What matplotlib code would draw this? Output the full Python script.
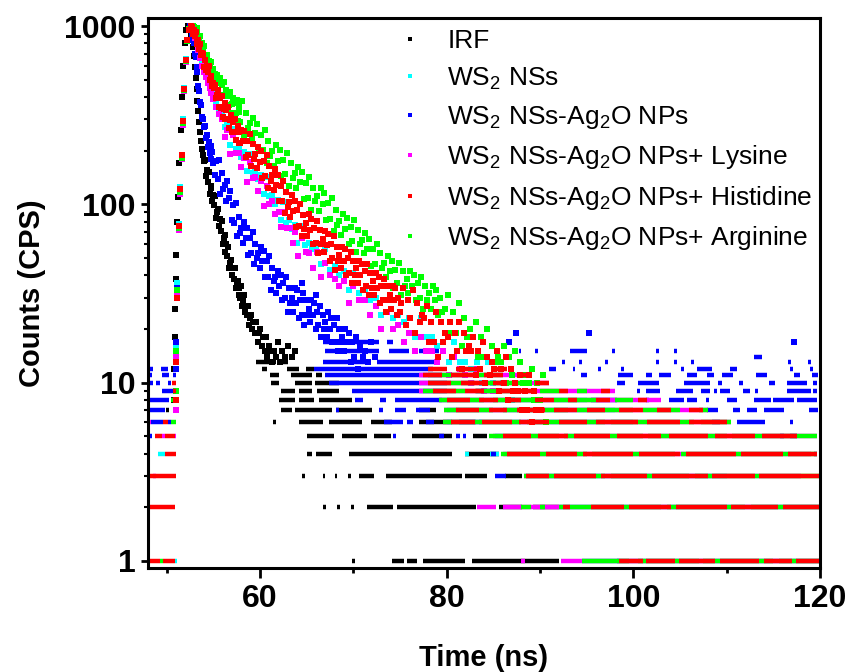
import numpy as np
import matplotlib.pyplot as plt
from matplotlib.ticker import LogLocator, NullFormatter

plt.rcParams['font.family'] = ['Liberation Sans', 'DejaVu Sans']
plt.rcParams['mathtext.fontset'] = 'custom'
plt.rcParams['mathtext.rm'] = 'Liberation Sans'
plt.rcParams['mathtext.it'] = 'Liberation Sans:italic'
plt.rcParams['mathtext.bf'] = 'Liberation Sans:bold'

labels = ['IRF', r'WS$_2$ NSs', r'WS$_2$ NSs-Ag$_2$O NPs', r'WS$_2$ NSs-Ag$_2$O NPs+ Lysine',
          r'WS$_2$ NSs-Ag$_2$O NPs+ Histidine', r'WS$_2$ NSs-Ag$_2$O NPs+ Arginine']
colors = ['#000000', '#00FFFF', '#0000FF', '#FF00FF', '#FF0000', '#00FF00']

x_ticks = [60, 80, 100, 120]
x_minor = [50, 70, 90, 110]
y_ticks = [1, 10, 100, 1000]

irf_pts = [(50.75, 8), (50.8, 12), (50.85, 18), (50.9, 26), (50.95, 38), (51.0, 52), (51.1, 80), (51.2, 110),
           (51.35, 170), (51.5, 260), (51.65, 400), (51.8, 600), (51.95, 800), (52.1, 950), (52.25, 1000),
           (52.4, 990), (52.5, 960), (52.6, 900), (52.7, 830), (52.8, 760), (52.9, 680), (53.0, 590), (53.1, 510),
           (53.2, 445), (53.3, 380), (53.4, 335), (53.5, 290), (53.6, 255), (53.7, 228), (53.8, 205), (53.9, 190),
           (54.0, 174), (54.1, 178), (54.2, 144), (54.3, 155), (54.4, 134), (54.5, 151), (54.6, 114), (54.7, 124),
           (54.8, 127), (54.9, 104), (55.0, 113), (55.1, 99), (55.2, 111), (55.3, 84), (55.4, 91), (55.5, 94),
           (55.6, 76), (55.7, 83), (55.8, 71), (55.9, 81), (56.0, 60), (56.1, 65), (56.2, 67), (56.3, 54),
           (56.4, 60), (56.5, 51), (56.6, 58), (56.7, 44), (56.8, 47), (56.9, 49), (57.0, 40), (57.1, 44),
           (57.2, 38), (57.3, 44), (57.4, 34), (57.5, 36), (57.6, 37), (57.7, 31), (57.8, 34), (57.9, 30),
           (58.0, 35), (58.1, 27), (58.2, 29), (58.3, 31), (58.4, 25), (58.5, 27), (58.6, 24), (58.7, 27),
           (58.8, 21), (58.9, 23), (59.0, 24), (59.15, 20), (59.3, 22), (59.45, 19), (59.6, 22), (59.75, 17),
           (59.9, 19), (60.05, 20), (60.2, 16), (60.35, 18), (60.5, 15), (60.65, 18), (60.8, 14), (60.95, 16),
           (61.1, 15), (61.3, 13), (61.5, 15), (61.7, 14), (61.9, 17), (62.1, 13), (62.4, 15), (62.7, 14),
           (63.0, 16), (63.4, 14), (63.8, 15)]

cyan_pts = [(50.95, 8), (51.05, 16), (51.15, 36), (51.3, 78), (51.45, 125), (51.6, 190), (51.75, 300),
            (51.9, 450), (52.05, 650), (52.2, 840), (52.35, 960),
            (52.6, 1000), (52.8, 940), (53.0, 880), (53.2, 820), (53.4, 760), (53.6, 690), (53.8, 620),
            (54.0, 575), (54.2, 540), (54.4, 505), (54.6, 475), (54.8, 445), (55.0, 415), (55.3, 380),
            (55.6, 345), (55.9, 315), (56.2, 270), (56.5, 280), (56.8, 215), (57.1, 265), (57.4, 204),
            (57.7, 209), (58.0, 185), (58.3, 196), (58.6, 153), (58.9, 192), (59.2, 150), (59.5, 154),
            (59.8, 138), (60.1, 146), (60.4, 115), (60.7, 143), (61.0, 111), (61.3, 113), (61.6, 101),
            (61.9, 106), (62.2, 82), (62.5, 103), (62.8, 79), (63.1, 82), (63.4, 73), (63.7, 77), (64.0, 61),
            (64.4, 76), (64.8, 59), (65.2, 61), (65.6, 56), (66.0, 58), (66.5, 46), (67.0, 56), (67.5, 43),
            (68.0, 45), (68.5, 40), (69.0, 42), (69.5, 33), (70.0, 41), (70.6, 32), (71.2, 33), (71.8, 29),
            (72.4, 30), (73.0, 24), (73.6, 29), (74.2, 23), (74.8, 24), (75.4, 22), (76.0, 23), (76.6, 18),
            (77.2, 23), (77.8, 18), (78.4, 18), (79.0, 16), (79.6, 17), (80.2, 13), (80.8, 17), (81.4, 13),
            (82.0, 13), (82.6, 12), (83.2, 13), (83.8, 10), (84.4, 13), (85.0, 10), (86.0, 10), (87.0, 8)]

blue_pts = [(50.95, 12), (51.05, 17), (51.15, 34), (51.3, 75), (51.45, 120), (51.6, 185), (51.75, 290),
            (51.9, 440), (52.05, 640), (52.2, 830), (52.35, 950),
            (52.5, 1000), (52.6, 950), (52.7, 905), (52.8, 830), (52.9, 800), (53.0, 700), (53.1, 670),
            (53.2, 590), (53.3, 550), (53.4, 460), (53.5, 430), (53.6, 375), (53.7, 360), (53.8, 310),
            (53.9, 300), (54.0, 270), (54.1, 275), (54.2, 235), (54.3, 245), (54.4, 210), (54.5, 225),
            (54.6, 195), (54.7, 212), (54.8, 180), (54.9, 196), (55.0, 170), (55.15, 146), (55.3, 175),
            (55.45, 139), (55.6, 178), (55.75, 115), (55.9, 150), (56.05, 122), (56.2, 128), (56.35, 104),
            (56.5, 136), (56.65, 108), (56.8, 119), (56.95, 82), (57.1, 99), (57.25, 79), (57.4, 102),
            (57.55, 66), (57.7, 85), (57.85, 69), (58.0, 74), (58.15, 61), (58.3, 80), (58.45, 65), (58.6, 74),
            (58.75, 52), (58.9, 65), (59.05, 53), (59.2, 70), (59.35, 46), (59.5, 60), (59.65, 50), (59.8, 53),
            (59.95, 44), (60.1, 58), (60.25, 48), (60.4, 55), (60.55, 39), (60.7, 48), (60.85, 39), (61.0, 51),
            (61.15, 33), (61.3, 44), (61.45, 37), (61.6, 39), (61.75, 32), (61.9, 42), (62.05, 35), (62.2, 40),
            (62.35, 29), (62.5, 36), (62.65, 30), (62.8, 39), (62.95, 25), (63.1, 34), (63.25, 28), (63.4, 30),
            (63.55, 25), (63.7, 34), (63.85, 28), (64.0, 33), (64.15, 23), (64.3, 29), (64.45, 24), (64.6, 32),
            (64.75, 21), (64.9, 29), (65.05, 24), (65.2, 26), (65.35, 22), (65.5, 29), (65.65, 24), (65.8, 28),
            (65.95, 20), (66.1, 25), (66.25, 21), (66.4, 27), (66.55, 18), (66.7, 24), (66.85, 20), (67.0, 22),
            (67.15, 18), (67.3, 25), (67.45, 20), (67.6, 23), (67.75, 17), (67.9, 21), (68.05, 17), (68.2, 23),
            (68.35, 15), (68.5, 20), (68.65, 17), (68.8, 18), (68.95, 15), (69.1, 20), (69.3, 17), (69.5, 19),
            (69.7, 13), (69.9, 17), (70.1, 14), (70.3, 18), (70.5, 12), (70.7, 16), (71.0, 14), (71.3, 15),
            (71.6, 13), (71.9, 17), (72.3, 14), (64.5, 36), (66.0, 31), (86.7, 17), (87.4, 19), (95.3, 19),
            (117.2, 17)]

magenta_pts = [(50.95, 7), (51.05, 14), (51.15, 32), (51.3, 72), (51.45, 115), (51.6, 180), (51.75, 280),
               (51.9, 430), (52.05, 630), (52.2, 820), (52.35, 950),
               (52.6, 1000), (52.8, 930), (53.0, 860), (53.2, 800), (53.4, 730), (53.6, 660), (53.8, 600),
               (54.0, 555), (54.2, 520), (54.4, 480), (54.6, 450), (54.8, 420), (55.0, 390), (55.3, 350),
               (55.6, 320), (55.9, 300), (56.2, 238), (56.5, 262), (56.8, 191), (57.1, 244), (57.4, 194),
               (57.7, 195), (58.0, 162), (58.3, 182), (58.6, 133), (58.9, 173), (59.2, 140), (59.5, 143),
               (59.8, 119), (60.1, 135), (60.4, 98), (60.7, 126), (61.0, 100), (61.3, 105), (61.6, 88),
               (62.0, 90), (62.3, 75), (62.6, 90), (62.9, 74), (63.2, 74), (63.5, 61), (63.8, 70), (64.1, 51),
               (64.5, 65), (64.9, 54), (65.3, 53), (65.7, 44), (66.1, 54), (66.5, 39), (67.0, 47), (67.5, 40),
               (68.0, 38), (68.5, 35), (69.0, 37), (69.5, 28), (70.0, 35), (70.6, 29), (71.2, 29), (71.8, 24),
               (72.4, 27), (73.0, 20), (73.6, 25), (74.2, 20), (74.8, 21), (75.4, 17), (76.0, 19), (76.6, 15),
               (77.2, 18), (77.8, 15), (78.4, 15), (79.0, 13), (79.6, 15), (80.2, 11), (80.8, 14), (81.4, 12),
               (82.0, 11), (82.6, 10), (83.2, 12), (84.0, 9), (85.0, 9)]

green_pts = [(50.95, 9), (51.05, 15), (51.15, 33), (51.3, 74), (51.45, 118), (51.6, 182), (51.75, 285),
             (51.9, 435), (52.05, 635), (52.2, 825), (52.4, 960),
             (52.8, 1000), (52.9, 990), (53.0, 918), (53.1, 977), (53.2, 904), (53.3, 980), (53.4, 837),
             (53.5, 867), (53.6, 878), (53.7, 766), (53.8, 800), (53.9, 726), (54.0, 771), (54.1, 646),
             (54.2, 670), (54.3, 686), (54.4, 605), (54.5, 640), (54.6, 587), (54.7, 631), (54.8, 536),
             (54.9, 561), (55.0, 574), (55.1, 506), (55.2, 536), (55.3, 504), (55.4, 533), (55.5, 429),
             (55.6, 477), (55.7, 513), (55.8, 410), (55.9, 468), (56.0, 411), (56.1, 483), (56.2, 368),
             (56.3, 409), (56.4, 440), (56.5, 355), (56.6, 407), (56.7, 360), (56.8, 426), (56.9, 326),
             (57.0, 366), (57.1, 396), (57.2, 320), (57.3, 368), (57.4, 324), (57.5, 384), (57.6, 295),
             (57.7, 330), (57.8, 358), (57.9, 288), (58.1, 378), (58.3, 246), (58.5, 326), (58.7, 268),
             (58.9, 284), (59.1, 233), (59.3, 306), (59.5, 250), (59.7, 283), (59.9, 200), (60.1, 246),
             (60.3, 202), (60.5, 262), (60.7, 171), (60.9, 227), (61.1, 187), (61.3, 199), (61.5, 163),
             (61.7, 214), (61.9, 176), (62.1, 201), (62.3, 144), (62.5, 178), (62.7, 147), (62.9, 193),
             (63.1, 127), (63.3, 170), (63.5, 141), (63.7, 150), (63.9, 123), (64.1, 162), (64.3, 133),
             (64.5, 151), (64.7, 107), (64.9, 132), (65.1, 108), (65.3, 142), (65.5, 93), (65.7, 124),
             (65.9, 104), (66.1, 111), (66.3, 92), (66.5, 123), (66.7, 101), (66.9, 116), (67.1, 82),
             (67.3, 102), (67.5, 83), (67.7, 109), (67.9, 71), (68.1, 93), (68.3, 77), (68.5, 81), (68.7, 67),
             (68.9, 88), (69.1, 73), (69.3, 84), (69.5, 60), (69.7, 75), (69.9, 62), (70.1, 82), (70.3, 54),
             (70.5, 72), (70.7, 60), (70.9, 63), (71.1, 53), (71.3, 69), (71.5, 56), (71.7, 64), (71.9, 45),
             (72.1, 56), (72.3, 46), (72.5, 60), (72.7, 39), (72.9, 53), (73.1, 44), (73.3, 47), (73.5, 39),
             (73.7, 51), (73.9, 42), (74.1, 48), (74.3, 34), (74.5, 43), (74.7, 36), (74.9, 47), (75.1, 31),
             (75.3, 42), (75.5, 35), (75.7, 38), (75.9, 32), (76.1, 42), (76.3, 35), (76.5, 40), (76.7, 29),
             (76.9, 36), (77.1, 30), (77.3, 39), (77.5, 26), (77.7, 35), (77.9, 29), (78.1, 32), (78.3, 26),
             (78.5, 35), (78.7, 29), (78.9, 33), (79.1, 24), (79.3, 30), (79.5, 25), (79.8, 26), (80.1, 31),
             (80.4, 19), (80.7, 25), (81.0, 19), (81.3, 28), (81.6, 16), (81.9, 23), (82.2, 18), (82.5, 20),
             (82.8, 18), (83.1, 22), (83.4, 14), (83.7, 18), (84.0, 14), (84.3, 20), (84.6, 11), (84.9, 16),
             (85.2, 13), (85.5, 14), (85.8, 13), (86.1, 16), (86.4, 10), (86.7, 14), (87.0, 11), (87.3, 15),
             (87.6, 9), (87.9, 13), (88.2, 10), (88.5, 11), (88.8, 10), (89.1, 12), (89.4, 8), (89.7, 10),
             (90.0, 8), (90.3, 11), (90.6, 6)]

red_pts = [(50.95, 8), (51.05, 13), (51.15, 30), (51.3, 76), (51.45, 122), (51.6, 188), (51.75, 295),
           (51.9, 445), (52.05, 645), (52.2, 835), (52.35, 955),
           (52.6, 1000), (52.7, 985), (52.8, 905), (52.9, 950), (53.0, 875), (53.1, 930), (53.2, 790),
           (53.3, 820), (53.4, 835), (53.5, 745), (53.6, 790), (53.7, 690), (53.8, 705), (53.9, 700),
           (54.0, 590), (54.1, 645), (54.2, 570), (54.3, 600), (54.4, 555), (54.5, 595), (54.6, 500),
           (54.7, 517), (54.8, 525), (54.9, 460), (55.0, 480), (55.1, 450), (55.2, 465), (55.3, 395),
           (55.4, 408), (55.5, 435), (55.6, 350), (55.7, 395), (55.8, 346), (55.9, 405), (56.0, 310),
           (56.1, 343), (56.2, 370), (56.3, 300), (56.4, 340), (56.5, 300), (56.6, 350), (56.7, 268),
           (56.8, 296), (56.9, 318), (57.0, 255), (57.1, 290), (57.2, 255), (57.3, 300), (57.4, 230),
           (57.5, 255), (57.6, 275), (57.7, 220), (57.8, 253), (57.9, 222), (58.0, 262), (58.15, 226),
           (58.3, 259), (58.45, 184), (58.6, 228), (58.75, 188), (58.9, 248), (59.05, 163), (59.2, 217),
           (59.35, 180), (59.5, 192), (59.65, 159), (59.8, 211), (59.95, 173), (60.1, 199), (60.25, 141),
           (60.4, 175), (60.55, 145), (60.7, 189), (60.85, 124), (61.0, 165), (61.15, 136), (61.3, 146),
           (61.45, 120), (61.6, 158), (61.75, 129), (61.9, 146), (62.05, 104), (62.2, 127), (62.35, 105),
           (62.5, 135), (62.65, 89), (62.8, 118), (62.95, 97), (63.1, 103), (63.25, 85), (63.4, 113),
           (63.55, 92), (63.7, 105), (63.85, 75), (64.0, 93), (64.15, 76), (64.3, 100), (64.45, 66),
           (64.6, 87), (64.75, 73), (64.9, 79), (65.05, 66), (65.2, 88), (65.35, 72), (65.5, 83), (65.65, 60),
           (65.8, 74), (65.95, 61), (66.1, 81), (66.25, 53), (66.4, 72), (66.55, 60), (66.7, 64), (66.85, 54),
           (67.0, 71), (67.15, 59), (67.3, 68), (67.45, 48), (67.6, 60), (67.75, 50), (67.9, 66), (68.05, 43),
           (68.2, 58), (68.35, 48), (68.5, 52), (68.65, 44), (68.8, 58), (68.95, 48), (69.1, 56), (69.25, 40),
           (69.4, 50), (69.55, 41), (69.7, 54), (69.85, 36), (70.0, 48), (70.15, 40), (70.3, 44), (70.45, 36),
           (70.6, 48), (70.75, 40), (70.9, 46), (71.05, 33), (71.2, 42), (71.35, 35), (71.5, 46), (71.65, 31),
           (71.8, 41), (71.95, 34), (72.1, 37), (72.25, 31), (72.4, 41), (72.55, 34), (72.7, 39), (72.85, 28),
           (73.0, 35), (73.15, 29), (73.3, 38), (73.45, 25), (73.6, 35), (73.75, 29), (73.9, 31), (74.05, 26),
           (74.2, 35), (74.35, 29), (74.5, 34), (74.65, 24), (74.8, 30), (74.95, 25), (75.1, 28), (75.35, 34),
           (75.6, 21), (75.85, 29), (76.1, 23), (76.35, 33), (76.6, 19), (76.85, 28), (77.1, 22), (77.35, 24),
           (77.6, 23), (77.85, 27), (78.1, 17), (78.35, 22), (78.6, 17), (78.85, 25), (79.1, 14), (79.35, 22),
           (79.6, 17), (79.85, 19), (80.1, 18), (80.35, 22), (80.6, 14), (80.85, 19), (81.1, 15), (81.35, 22),
           (81.6, 12), (81.85, 19), (82.1, 15), (82.35, 16), (82.6, 15), (82.85, 18), (83.1, 11), (83.35, 15),
           (83.6, 12), (83.85, 17), (84.1, 10), (84.35, 14), (84.6, 11), (84.85, 13), (85.1, 12), (85.35, 15),
           (85.6, 9), (85.85, 12), (86.1, 10), (86.35, 14), (86.6, 8), (86.85, 12), (87.1, 9), (87.35, 10),
           (87.6, 9), (87.85, 11), (88.1, 7), (88.35, 9), (88.6, 7), (88.85, 11), (89.1, 6), (89.35, 9),
           (89.6, 7), (90.1, 7)]

# (count level, first ns, last ns): runs of adjacent channels sitting on the same integer count
irf_rows = [(7, 49.9, 50.3),
            (13, 59.6, 61.7), (13, 62.5, 63.0),
            (12, 60.2, 60.7), (12, 62.9, 64.2), (12, 64.9, 65.8),
            (11, 61.1, 62.0), (11, 63.3, 65.6), (11, 66.0, 66.6),
            (10, 61.2, 62.0), (10, 63.8, 65.6), (10, 65.9, 68.5),
            (9, 62.3, 63.8), (9, 64.2, 65.6), (9, 66.1, 68.5),
            (8, 62.0, 63.8), (8, 64.2, 65.8), (8, 66.3, 69.9),
            (7, 62.2, 63.4), (7, 63.8, 67.7), (7, 68.1, 72.0), (7, 77.0, 78.9),
            (6, 61.4, 61.7), (6, 64.2, 66.7), (6, 67.4, 70.9), (6, 71.9, 74.1), (6, 77.0, 80.6),
            (5, 65.0, 67.9), (5, 68.8, 71.5), (5, 72.2, 74.0), (5, 76.3, 80.6), (5, 82.8, 84.3),
            (4, 65.0, 65.6), (4, 66.0, 67.7), (4, 69.5, 80.6), (4, 82.0, 85.6),
            (3, 64.5, 64.8), (3, 66.7, 67.0), (3, 68.0, 68.3), (3, 69.4, 69.7), (3, 70.6, 72.2),
            (3, 73.5, 81.6), (3, 82.0, 84.3), (3, 86.3, 88.1),
            (2, 66.8, 67.1), (2, 68.3, 68.6), (2, 69.8, 70.1), (2, 71.5, 74.3), (2, 74.7, 83.1),
            (2, 85.6, 88.1), (2, 89.2, 92.0),
            (1, 69.9, 70.2), (1, 74.1, 75.4), (1, 75.8, 76.8), (1, 77.5, 82.0), (1, 82.7, 92.0)]

cyan_rows = [(1, 50.9, 51.1), (4, 49.1, 49.8),
             (1, 94.5, 96.5), (1, 96.5, 120.0), (2, 92.0, 93.0), (2, 93.0, 120.0), (3, 88.5, 110.0),
             (4, 82.0, 82.4), (4, 84.6, 85.6), (5, 85.2, 86.0), (6, 80.0, 100.0), (7, 80.0, 98.0),
             (8, 79.5, 95.0)]

blue_rows = [(5, 48.0, 48.4), (6, 48.3, 49.6), (6, 50.1, 50.5), (7, 48.0, 49.8), (8, 47.9, 50.2),
             (9, 49.5, 50.7), (10, 48.1, 48.55), (10, 48.85, 49.3), (10, 50.1, 50.5), (11, 47.9, 48.4),
             (11, 49.5, 50.2), (11, 50.7, 51.0), (12, 48.0, 48.5), (12, 49.4, 50.1), (12, 50.7, 51.0),
             (17, 66.8, 67.4), (17, 68.4, 69.8), (17, 70.2, 72.8), (17, 73.6, 74.2), (17, 75.3, 75.6),
             (15, 67.0, 72.8), (15, 73.8, 76.0), (15, 77.0, 79.2), (15, 87.7, 88.0), (15, 89.5, 89.8),
             (15, 93.2, 95.0), (15, 97.7, 98.0), (15, 102.4, 102.7), (15, 104.4, 104.7),
             (14, 112.9, 113.8),
             (13, 66.8, 71.5), (13, 72.5, 79.2), (13, 92.4, 92.7), (13, 94.2, 94.5), (13, 97.0, 97.3),
             (13, 102.4, 102.7), (13, 104.4, 104.7), (13, 106.2, 106.5), (13, 116.6, 116.9), (13, 118.7, 119.0),
             (12, 65.8, 78.5), (12, 91.0, 91.7), (12, 93.5, 93.8), (12, 96.2, 96.5), (12, 98.7, 99.0),
             (12, 105.1, 105.4), (12, 106.8, 108.4), (12, 110.4, 111.1), (12, 116.8, 117.1), (12, 118.9, 119.2),
             (11, 67.0, 79.5), (11, 86.7, 87.3), (11, 94.4, 95.0), (11, 98.4, 100.0), (11, 101.4, 102.0),
             (11, 102.7, 104.0), (11, 105.7, 106.8), (11, 107.9, 108.6), (11, 109.5, 110.7), (11, 113.1, 114.3),
             (11, 117.2, 117.9), (11, 119.1, 119.8),
             (10, 67.4, 80.0), (10, 98.2, 99.1), (10, 100.5, 102.7), (10, 105.4, 108.2), (10, 109.1, 109.5),
             (10, 111.3, 111.8), (10, 114.5, 115.2), (10, 116.5, 118.6), (10, 119.3, 119.7),
             (9, 69.9, 80.0), (9, 83.1, 84.6), (9, 100.4, 100.7), (9, 101.4, 102.9), (9, 104.6, 106.4),
             (9, 107.2, 108.2), (9, 108.6, 109.0), (9, 109.3, 110.4), (9, 111.8, 112.5), (9, 113.0, 113.4),
             (9, 116.5, 119.0), (9, 119.3, 119.7),
             (8, 70.2, 71.0), (8, 72.9, 73.5), (8, 74.5, 79.5), (8, 95.5, 98.2), (8, 101.4, 101.7),
             (8, 103.8, 105.4), (8, 105.7, 106.8), (8, 107.8, 108.1), (8, 110.0, 111.1), (8, 112.9, 114.7),
             (8, 115.0, 117.2), (8, 117.5, 119.7),
             (7, 68.1, 68.5), (7, 72.8, 73.2), (7, 74.5, 75.6), (7, 76.7, 78.2), (7, 107.9, 109.1),
             (7, 110.7, 111.4), (7, 112.2, 113.3), (7, 114.0, 116.1), (7, 118.8, 119.8),
             (6, 73.3, 75.3), (6, 75.8, 76.4), (6, 77.8, 78.6), (6, 81.3, 83.1), (6, 83.5, 83.8),
             (6, 108.4, 109.3), (6, 111.1, 114.1), (6, 116.8, 117.1),
             (5, 74.2, 74.6), (5, 79.2, 79.7), (5, 81.0, 81.4), (5, 81.7, 82.1), (5, 115.7, 116.1),
             (5, 116.8, 117.5),
             (4, 84.7, 85.3), (4, 119.4, 119.7),
             (3, 85.2, 86.4),
             (1, 98.2, 98.5)]

magenta_rows = [(5, 47.9, 48.0), (6, 47.9, 48.3), (3, 48.5, 48.9), (5, 49.5, 49.8), (5, 50.9, 51.05),
                (1, 88.0, 88.4), (1, 92.3, 120.0), (2, 83.3, 85.3), (2, 86.0, 120.0), (3, 88.3, 118.0),
                (4, 86.0, 119.0), (5, 85.0, 119.7), (6, 79.6, 110.5), (7, 79.7, 108.0), (8, 79.2, 103.0),
                (9, 77.0, 98.0), (10, 77.0, 91.0), (11, 77.0, 88.0)]

green_rows = [(1, 49.3, 49.6), (3, 47.9, 48.0), (4, 47.9, 48.1), (6, 50.5, 51.05), (8, 50.5, 51.05),
              (1, 94.5, 99.5), (1, 100.5, 107.0), (1, 107.5, 115.0), (1, 115.6, 120.0),
              (2, 88.0, 89.0), (2, 90.0, 90.5), (2, 92.0, 103.0), (2, 103.6, 112.0), (2, 112.6, 120.0),
              (3, 88.3, 97.0), (3, 97.6, 106.0), (3, 106.6, 120.0),
              (4, 85.8, 95.0), (4, 95.6, 104.5), (4, 105.1, 119.7),
              (5, 84.5, 92.0), (5, 92.6, 101.0), (5, 101.6, 110.0), (5, 110.6, 119.7),
              (6, 79.6, 88.0), (6, 88.6, 97.0), (6, 97.6, 106.5), (6, 107.2, 110.5),
              (7, 79.7, 85.0), (7, 86.0, 93.0), (7, 94.0, 100.0), (7, 101.0, 105.0), (7, 107.0, 108.0),
              (8, 79.2, 84.0), (8, 85.0, 90.0), (8, 91.5, 96.0), (8, 98.0, 100.0),
              (9, 77.5, 82.0), (9, 83.0, 88.0), (9, 90.0, 92.0), (9, 94.0, 95.0),
              (10, 78.0, 83.0), (10, 84.0, 88.0),
              (11, 78.0, 82.0), (11, 83.5, 86.0)]

red_rows = [(1, 47.9, 49.3), (1, 49.6, 50.9), (2, 47.9, 50.9), (3, 48.0, 51.05), (4, 49.8, 51.05),
            (5, 48.7, 49.5), (5, 49.8, 50.9), (6, 49.6, 50.1), (9, 50.7, 51.05), (10, 50.6, 51.05),
            (1, 98.5, 101.0), (1, 101.4, 104.5), (1, 104.9, 108.8), (1, 109.3, 113.5), (1, 114.0, 117.0),
            (1, 117.4, 120.0),
            (2, 92.5, 93.2), (2, 95.5, 99.0), (2, 99.5, 104.0), (2, 104.6, 110.0), (2, 110.5, 115.5),
            (2, 116.0, 120.0),
            (3, 88.5, 91.0), (3, 91.5, 96.0), (3, 96.5, 101.5), (3, 102.0, 108.0), (3, 108.4, 113.0),
            (3, 113.5, 120.0),
            (4, 86.5, 90.0), (4, 90.6, 94.0), (4, 94.6, 100.0), (4, 100.6, 105.0), (4, 105.6, 111.0),
            (4, 111.5, 116.0), (4, 116.6, 119.7),
            (5, 86.0, 89.0), (5, 89.8, 93.0), (5, 93.6, 97.5), (5, 98.2, 103.0), (5, 103.8, 108.0),
            (5, 108.8, 113.0), (5, 113.8, 117.5),
            (6, 80.5, 83.0), (6, 83.8, 87.0), (6, 87.8, 91.0), (6, 92.0, 95.0), (6, 96.0, 100.5),
            (6, 101.5, 105.0), (6, 106.0, 110.0),
            (7, 81.0, 83.5), (7, 84.5, 86.5), (7, 87.5, 90.5), (7, 91.5, 94.0), (7, 95.0, 97.0),
            (7, 98.5, 101.0), (7, 102.5, 104.0), (7, 106.0, 107.5),
            (8, 80.0, 82.5), (8, 83.5, 85.5), (8, 86.5, 88.0), (8, 89.5, 91.5), (8, 93.0, 94.0),
            (8, 96.0, 97.5), (8, 100.5, 101.5),
            (9, 78.5, 81.0), (9, 82.0, 84.0), (9, 85.5, 87.0), (9, 88.0, 89.5), (9, 92.0, 93.0),
            (9, 96.5, 97.5),
            (10, 78.0, 80.5), (10, 81.5, 84.0), (10, 85.0, 86.5), (10, 89.5, 91.0),
            (11, 77.5, 79.5), (11, 80.5, 83.0), (11, 84.0, 86.0), (11, 87.5, 88.5),
            (12, 78.0, 80.0), (12, 81.0, 83.5), (12, 85.0, 86.5)]

# drawing order: red ends up on top
order = [0, 1, 2, 3, 5, 4]
all_pts = [irf_pts, cyan_pts, blue_pts, magenta_pts, red_pts, green_pts]
all_rows = [irf_rows, cyan_rows, blue_rows, magenta_rows, red_rows, green_rows]

fig = plt.figure(figsize=(8.48, 6.72), dpi=100)
ax = fig.add_axes([0.1745, 0.1548, 0.7925, 0.8184])

handles = {}
for i in order:
    lv, t0, t1 = zip(*all_rows[i])
    ax.hlines(lv, t0, t1, colors=colors[i], lw=3.2)
    t, c = zip(*all_pts[i])
    handles[i], = ax.plot(t, c, 's', ms=4.3, mew=0, color=colors[i], label=labels[i])

ax.set_yscale('log')
ax.set_xlim(48.0, 120)
ax.set_ylim(0.913, 1109)

ax.set_xticks(x_ticks, labels=[str(v) for v in x_ticks], fontsize=23, fontweight='bold')
ax.set_xticks(x_minor, minor=True)
ax.set_yticks(y_ticks, labels=[str(v) for v in y_ticks], fontsize=23, fontweight='bold')
ax.yaxis.set_minor_locator(LogLocator(base=10, subs=np.arange(2, 10)))
ax.yaxis.set_minor_formatter(NullFormatter())

ax.tick_params(axis='x', which='major', length=7.2, width=2, pad=4)
ax.tick_params(axis='x', which='minor', length=3.6, width=2)
ax.tick_params(axis='y', which='major', length=5, width=2, pad=4)
ax.tick_params(axis='y', which='minor', length=3, width=1.5)
for sp in ax.spines.values():
    sp.set_linewidth(2.2)

ax.set_xlabel('Time (ns)', fontsize=21, fontweight='bold', labelpad=22)
ax.set_ylabel('Counts (CPS)', fontsize=21, fontweight='bold', labelpad=13)

ax.legend([handles[i] for i in range(6)], labels, loc='upper left',
          bbox_to_anchor=(397 / 848, 1 - 29 / 672), bbox_transform=fig.transFigure,
          frameon=False, fontsize=19, handlelength=1.0, handletextpad=0.9,
          labelspacing=0.47, borderpad=0, borderaxespad=0, markerscale=0.6)

fig.savefig('out.png', dpi=100)
